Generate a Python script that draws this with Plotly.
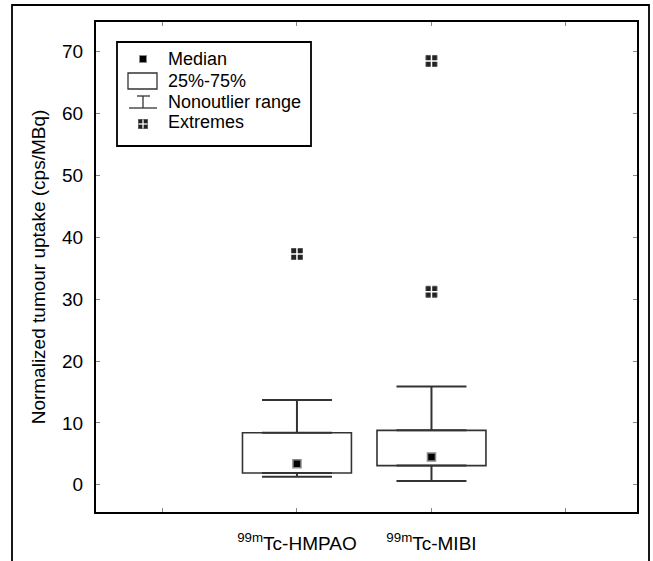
import plotly.graph_objects as go

# ---- data ----
categories = ["<sup>99m</sup>Tc-HMPAO", "<sup>99m</sup>Tc-MIBI"]
positions = [1, 2]
q1 = [1.9, 3.1]
q3 = [8.4, 8.8]
medians = [3.4, 4.5]
whisker_low = [1.3, 0.6]
whisker_high = [13.7, 15.9]
extreme_x = [1, 2, 2]
extreme_y = [37.3, 31.2, 68.5]
y_ticks = [0, 10, 20, 30, 40, 50, 60, 70]
legend_labels = ["Median", "25%-75%", "Nonoutlier range", "Extremes"]

FONT = "Liberation Sans, Arial, sans-serif"
W, H = 653, 561
ML, MR, MT, MB = 96, 16, 22, 49
PW, PH = W - ML - MR, H - MT - MB


def px(x):
    return (x - ML) / PW


def py(y):
    return (H - MB - y) / PH


fig = go.Figure()

# boxes (25%-75%)
fig.add_trace(go.Bar(
    x=positions, base=q1, y=[b - a for a, b in zip(q1, q3)], width=0.81,
    marker=dict(color="white", line=dict(color="#333", width=1.6)),
    showlegend=False, hoverinfo="skip"))

# upper whiskers
fig.add_trace(go.Scatter(
    x=positions, y=q3, mode="markers", marker=dict(size=1, color="rgba(0,0,0,0)"),
    error_y=dict(type="data", symmetric=False, array=[h - b for b, h in zip(q3, whisker_high)],
                 arrayminus=[0, 0], width=35, thickness=2, color="#333"),
    showlegend=False, hoverinfo="skip"))
# lower whiskers
fig.add_trace(go.Scatter(
    x=positions, y=q1, mode="markers", marker=dict(size=1, color="rgba(0,0,0,0)"),
    error_y=dict(type="data", symmetric=False, array=[0, 0],
                 arrayminus=[a - l for a, l in zip(q1, whisker_low)], width=35, thickness=2, color="#333"),
    showlegend=False, hoverinfo="skip"))

# medians
fig.add_trace(go.Scatter(
    x=positions, y=medians, mode="markers",
    marker=dict(symbol="square", size=8, color="black", line=dict(color="#888", width=1.5)),
    showlegend=False))

# extremes
fig.add_trace(go.Scatter(
    x=extreme_x, y=extreme_y, mode="markers",
    marker=dict(symbol="square", size=11, color="#222", line=dict(color="#555", width=1)),
    showlegend=False))
fig.add_trace(go.Scatter(
    x=extreme_x, y=extreme_y, mode="markers",
    marker=dict(symbol="cross-thin", size=11, line=dict(color="white", width=1.5)),
    showlegend=False, hoverinfo="skip"))

shapes = []
annotations = []

# outer frame
shapes.append(dict(type="rect", xref="paper", yref="paper",
                   x0=px(12), x1=px(649), y0=py(5), y1=py(575),
                   line=dict(color="black", width=1.8), layer="below"))

# manual legend
shapes.append(dict(type="rect", xref="paper", yref="paper",
                   x0=px(117), x1=px(311), y0=py(42), y1=py(146),
                   line=dict(color="black", width=1.8), fillcolor="white"))
# median symbol
shapes.append(dict(type="rect", xref="paper", yref="paper",
                   x0=px(139.5), x1=px(146.5), y0=py(55.5), y1=py(62.5),
                   line=dict(color="#888", width=1), fillcolor="black"))
# box symbol
shapes.append(dict(type="rect", xref="paper", yref="paper",
                   x0=px(128), x1=px(157), y0=py(73), y1=py(89),
                   line=dict(color="#333", width=1.3), fillcolor="white"))
# whisker symbol
for (xa, ya, xb, yb) in [(137, 96, 150, 96), (143, 96, 143, 108), (129, 108, 157, 108)]:
    shapes.append(dict(type="line", xref="paper", yref="paper",
                       x0=px(xa), y0=py(ya), x1=px(xb), y1=py(yb),
                       line=dict(color="#333", width=1.3)))
# extremes symbol
shapes.append(dict(type="rect", xref="paper", yref="paper",
                   x0=px(138.5), x1=px(147.5), y0=py(119.5), y1=py(128.5),
                   line=dict(color="#555", width=1), fillcolor="#222"))
for (xa, ya, xb, yb) in [(143, 119.5, 143, 128.5), (138.5, 124, 147.5, 124)]:
    shapes.append(dict(type="line", xref="paper", yref="paper",
                       x0=px(xa), y0=py(ya), x1=px(xb), y1=py(yb),
                       line=dict(color="white", width=1.3)))

for lab, yc in zip(legend_labels, [59, 81, 102, 122]):
    annotations.append(dict(xref="paper", yref="paper", x=px(166), y=py(yc),
                            text=lab, showarrow=False, xanchor="left", yanchor="middle",
                            font=dict(family=FONT, size=18, color="black")))

fig.update_layout(
    width=W, height=H,
    margin=dict(l=ML, r=MR, t=MT, b=MB, autoexpand=False),
    paper_bgcolor="white", plot_bgcolor="white",
    font=dict(family=FONT, size=19, color="black"),
    showlegend=False,
    shapes=shapes, annotations=annotations,
    xaxis=dict(range=[-0.494, 3.528], tickmode="array", tickvals=positions,
               ticktext=categories, ticks="inside", ticklen=4,
               tickcolor="#888", tickwidth=1, showgrid=False, zeroline=False,
               showline=True, linecolor="black", linewidth=2, mirror="allticks",
               minor=dict(tickmode="array", tickvals=[0, 3], ticks="inside", ticklen=4,
                          tickcolor="#888", tickwidth=1, showgrid=False),
               ticklabelstandoff=13, tickfont=dict(size=19)),
    yaxis=dict(range=[-4.4, 74.8], tickmode="array", tickvals=y_ticks,
               ticks="inside", ticklen=4, tickcolor="#888", tickwidth=1,
               showgrid=False, zeroline=False, showline=True, linecolor="black",
               linewidth=2, mirror="allticks", ticklabelstandoff=7,
               tickfont=dict(size=19),
               title=dict(text="Normalized tumour uptake (cps/MBq)", standoff=11,
                          font=dict(size=19))),
)

fig.write_html("out.html")
